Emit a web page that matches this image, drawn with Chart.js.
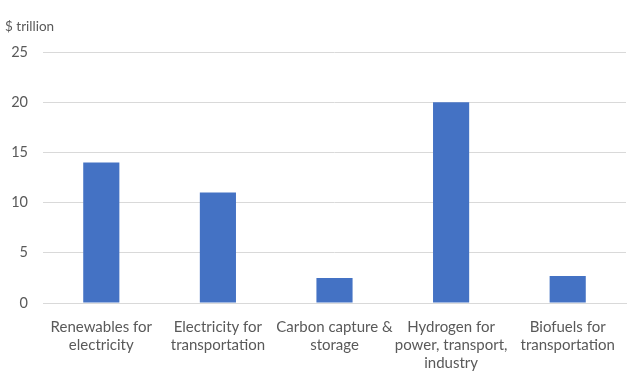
<!DOCTYPE html>
<html><head><meta charset="utf-8">
<script src="https://cdn.jsdelivr.net/npm/chart.js@4"></script>
<style>html,body{margin:0;padding:0;background:#fff}#wrap{width:640px;height:383px}</style>
</head><body><div id="wrap"><canvas id="c"></canvas></div>
<script>
const categories = [
  ["Renewables for", "electricity"],
  ["Electricity for", "transportation"],
  ["Carbon capture &", "storage"],
  ["Hydrogen for", "power, transport,", "industry"],
  ["Biofuels for", "transportation"]
];
const values = [14, 11, 2.5, 20, 2.7];
const yTicks = [0, 5, 10, 15, 20, 25];
const unitLabel = "$ trillion";

const FONT = "Lato, 'Open Sans', sans-serif";
const unitPlugin = {
  id: 'unit',
  afterDraw(chart) {
    const ctx = chart.ctx;
    ctx.save();
    ctx.font = "13.5px " + FONT;
    ctx.fillStyle = "#595959";
    ctx.textAlign = "left";
    ctx.textBaseline = "middle";
    ctx.fillText(unitLabel, 5, 27);
    ctx.restore();
  }
};

new Chart(document.getElementById('c'), {
  type: 'bar',
  data: { labels: categories, datasets: [{ data: values, backgroundColor: '#4472C4', categoryPercentage: 1, barPercentage: 0.31 }] },
  options: {
    responsive: true, maintainAspectRatio: false, animation: false,
    layout: { padding: { top: 52, right: 14, left: 0, bottom: 0 } },
    plugins: { legend: { display: false }, tooltip: { enabled: false } },
    scales: {
      x: {
        grid: { display: false },
        border: { color: '#D9D9D9', width: 1 },
        ticks: { color: '#595959', font: { family: FONT, size: 15, lineHeight: 1.2 }, padding: 7, maxRotation: 0, autoSkip: false },
        afterFit(s) { s.height = 80; }
      },
      y: {
        min: 0, max: 25,
        afterBuildTicks(s) { s.ticks = yTicks.map(v => ({ value: v })); },
        grid: { color: '#D9D9D9', drawTicks: false },
        border: { display: false },
        ticks: { color: '#595959', font: { family: FONT, size: 14.5 }, padding: 15 },
        afterFit(s) { s.width = 43; }
      }
    }
  },
  plugins: [unitPlugin]
});
</script></body></html>
